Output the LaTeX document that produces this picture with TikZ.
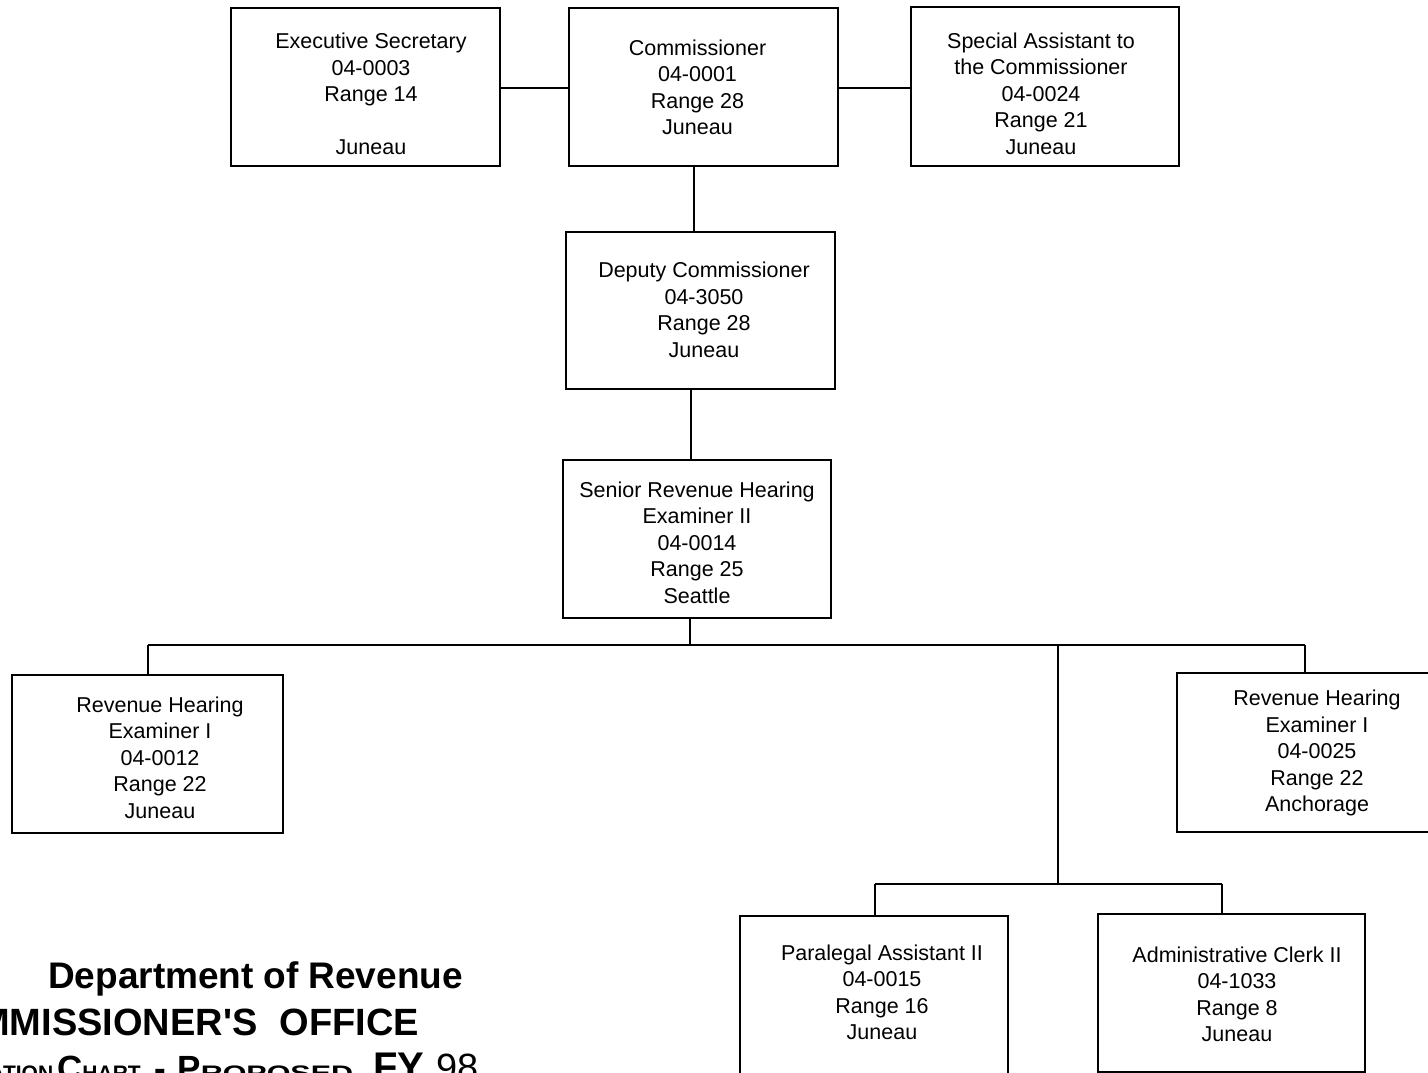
\documentclass[tikz,border=0pt]{standalone}
\usepackage{fontspec}
\setmainfont{Liberation Sans}
\newcommand\chartbig[1]{{\fontsize{35}{35}\selectfont #1}}
\newcommand\chartsmall[1]{{\fontsize{21}{21}\selectfont #1}}
\begin{document}
\begin{tikzpicture}[x=1pt,y=-1pt,
  post/.style={draw=black, line width=2.8pt, minimum width=268pt, minimum height=158pt, inner sep=0pt},
  lbl/.style={align=center, font=\fontsize{21.5}{26.5}\selectfont, inner sep=0pt},
  link/.style={line width=2.4pt},
  heading/.style={inner sep=0pt, font=\bfseries}]
\useasboundingbox (0,0) rectangle (1428,1072);
\clip (0,0) rectangle (1428,1072);
\fill[white] (0,0) rectangle (1428,1072);

% position boxes
\node[post, minimum width=269pt] (exec) at (365.5,87) {};
\node[post, minimum width=269pt] (ceo)  at (703.5,87) {};
\node[post, minimum height=159pt] (spec) at (1045,86.5) {};
\node[post, minimum width=269pt, minimum height=157pt] (dep) at (700.5,310.5) {};
\node[post] (sen)  at (697,539) {};
\node[post, minimum width=271pt] (reh1) at (147.5,754) {};
\node[post, minimum width=278pt, minimum height=159pt] (reh2) at (1316,752.5) {};
\node[post] (para) at (874,995) {};
\node[post, minimum width=267pt] (adm)  at (1231.5,993) {};

% box texts
\node[lbl] (exec-t) at (371,94) {Executive Secretary\\04-0003\\Range 14\\[26.5pt]Juneau};
\node[lbl] (ceo-t)  at (697.5,87.5) {Commissioner\\04-0001\\Range 28\\Juneau};
\node[lbl] (spec-t) at (1041,93.5) {Special Assistant to\\the Commissioner\\04-0024\\Range 21\\Juneau};
\node[lbl] (dep-t)  at (704,310) {Deputy Commissioner\\04-3050\\Range 28\\Juneau};
\node[lbl] (sen-t)  at (697,542.5) {Senior Revenue Hearing\\Examiner II\\04-0014\\Range 25\\Seattle};
\node[lbl] (reh1-t) at (160,757.5) {Revenue Hearing\\Examiner I\\04-0012\\Range 22\\Juneau};
\node[lbl] (reh2-t) at (1317,753) {Revenue Hearing\\Examiner I\\04-0025\\Range 22\\Anchorage};
\node[lbl] (para-t) at (882,992.5) {Paralegal Assistant II\\04-0015\\Range 16\\Juneau};
\node[lbl] (adm-t)  at (1237,994.5) {Administrative Clerk II\\04-1033\\Range 8\\Juneau};

% junction points
\coordinate (busL) at (148,645);
\coordinate (busR) at (1305,645);
\coordinate (busM) at (690,645);
\coordinate (busD) at (1058,645);
\coordinate (bus2) at (1058,884);
\coordinate (bus2L) at (875,884);
\coordinate (bus2R) at (1222,884);
\coordinate (ceoDrop) at (694,166);
\coordinate (depDrop) at (691,389);

% connectors
\draw[link] (exec.east |- 0,88) -- (ceo.west |- 0,88);
\draw[link] (ceo.east |- 0,88) -- (spec.west |- 0,88);
\draw[link] (ceoDrop) -- (ceoDrop |- dep.north);
\draw[link] (depDrop) -- (depDrop |- sen.north);
\draw[link] (busM |- sen.south) -- (busM);
\draw[link] (busL) -- (busR);
\draw[link] (busL) -- (busL |- reh1.north);
\draw[link] (busR) -- (busR |- reh2.north);
\draw[link] (busD) -- (bus2);
\draw[link] (bus2L) -- (bus2R);
\draw[link] (bus2L) -- (bus2L |- para.north);
\draw[link] (bus2R) -- (bus2R |- adm.north);

% title block
\node[heading, anchor=base west, font=\bfseries\fontsize{37}{37}\selectfont] (dept) at (48,988)
  {Department\hspace{10pt}of\hspace{10pt}Revenue};
\node[heading, anchor=base east, font=\bfseries\fontsize{38}{38}\selectfont] (office) at (419,1035)
  {COMMISSIONER\textquotesingle S\hspace{22pt}OFFICE};
\node[heading, anchor=base west] (chart) at (-118.5,1080)
  {\chartbig{O}\chartsmall{RGANIZATION}\hspace{4pt}\chartbig{C}\chartsmall{HART}\hspace{14pt}\chartbig{-}\hspace{11pt}\chartbig{P}\scalebox{1.45}[1]{\chartsmall{ROPOSED}}\hspace{20pt}{\fontsize{40}{40}\selectfont FY}\hspace{12pt}{\mdseries\fontsize{38}{38}\selectfont 98}};
\end{tikzpicture}
\end{document}
